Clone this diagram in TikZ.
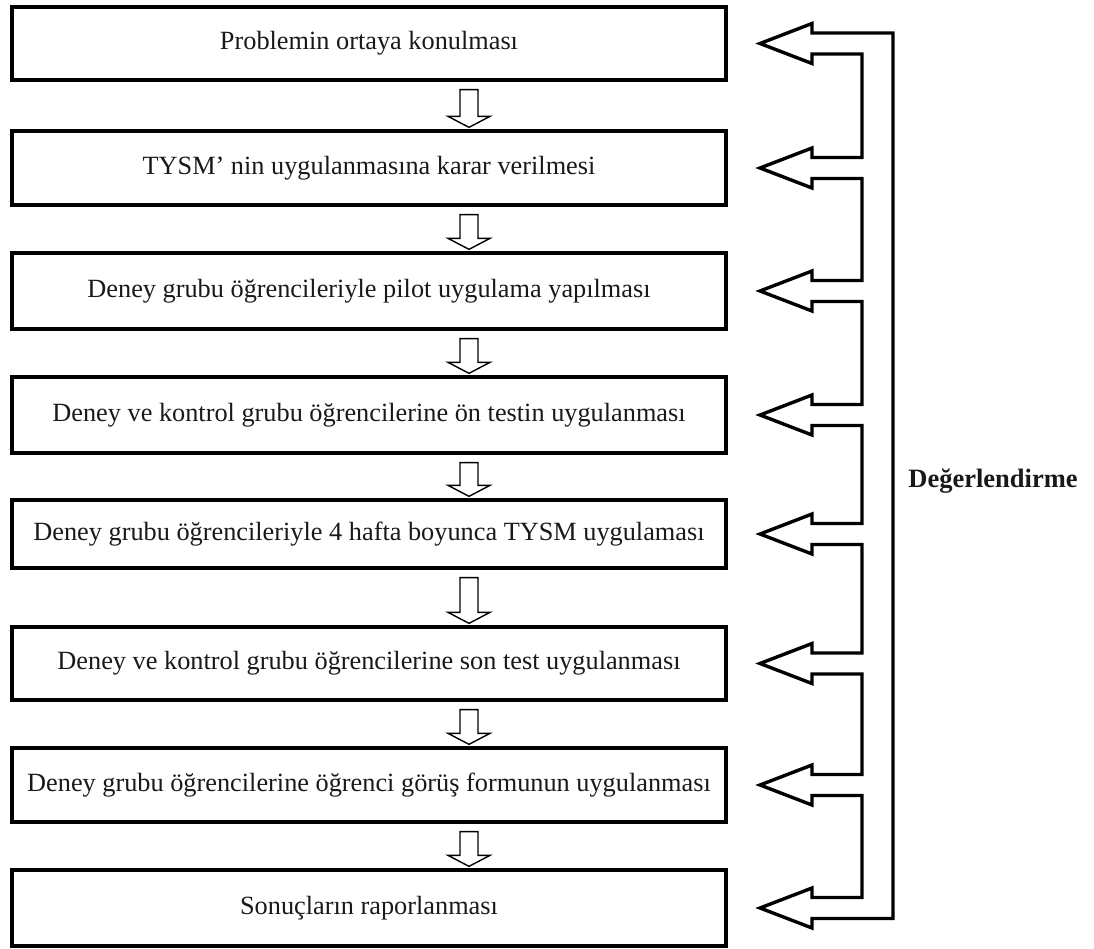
\documentclass[tikz,border=0pt]{standalone}
\usepackage{fontspec}
\setmainfont{Liberation Serif}
\usetikzlibrary{calc}
\tikzset{
  stepbox/.style={draw=black, line width=3.3pt, minimum width=714pt, inner sep=0pt,
    font=\fontsize{26.3}{30}\selectfont, text=black!90},
  downarr/.style={draw=black, line width=1.4pt, fill=white, line join=miter},
  fb/.style={draw=black, line width=3.4pt, line join=miter, miter limit=4},
  evallabel/.style={font=\bfseries\fontsize{26.5}{30}\selectfont, text=black!90}
}
\newcommand\hollowdown[2]{%
  \draw[downarr] let \p1=(#1.south), \p2=(#2.north) in
    (460pt,\y1-8pt) -- (478pt,\y1-8pt) -- (478pt,\y2+13pt) -- (490pt,\y2+13pt)
    -- (469pt,\y2+2pt) -- (448pt,\y2+13pt) -- (460pt,\y2+13pt) -- cycle;}
\begin{document}
\begin{tikzpicture}[x=1pt,y=-1pt]
\useasboundingbox (0,0) rectangle (1094,949);
\node[stepbox, minimum height=73pt] (b1) at (369,43.5) {Problemin ortaya konulması};
\node[stepbox, minimum height=74pt] (b2) at (369,168) {TYSM' nin uygulanmasına karar verilmesi};
\node[stepbox, minimum height=76pt] (b3) at (369,291) {Deney grubu öğrencileriyle pilot uygulama yapılması};
\node[stepbox, minimum height=76pt] (b4) at (369,415) {Deney ve kontrol grubu öğrencilerine ön testin uygulanması};
\node[stepbox, minimum height=68pt] (b5) at (369,534) {Deney grubu öğrencileriyle 4 hafta boyunca TYSM uygulaması};
\node[stepbox, minimum height=73pt] (b6) at (369,663.5) {Deney ve kontrol grubu öğrencilerine son test uygulanması};
\node[stepbox, minimum height=74pt] (b7) at (369,785) {Deney grubu öğrencilerine öğrenci görüş formunun uygulanması};
\node[stepbox, minimum height=76pt] (b8) at (369,908) {Sonuçların raporlanması};
\node[evallabel] (ev) at (993,481) {Değerlendirme};
\hollowdown{b1}{b2}
\hollowdown{b2}{b3}
\hollowdown{b3}{b4}
\hollowdown{b4}{b5}
\hollowdown{b5}{b6}
\hollowdown{b6}{b7}
\hollowdown{b7}{b8}
\coordinate (T) at (760,0);
\coordinate (H) at (812,0);
\coordinate (I) at (862,0);
\coordinate (O) at (893,0);
\draw[fb] (b1.center -| T) -- ++(52pt,20pt) -- ++(0pt,-9.5pt)
  -- ($(b1.center -| O)+(0pt,10.5pt)$)
  -- ($(b8.center -| O)+(0pt,-10.5pt)$)
  -- ($(b8.center -| H)+(0pt,-10.5pt)$) -- ++(0pt,-9.5pt)
  -- (b8.center -| T) -- ++(52pt,20pt) -- ++(0pt,-9.5pt)
  \foreach \a/\b in {8/7,7/6,6/5,5/4,4/3,3/2} {
    -- ($(b\a.center -| I)+(0pt,10.5pt)$)
    -- ($(b\b.center -| I)+(0pt,-10.5pt)$)
    -- ($(b\b.center -| H)+(0pt,-10.5pt)$) -- ++(0pt,-9.5pt)
    -- (b\b.center -| T) -- ++(52pt,20pt) -- ++(0pt,-9.5pt)
  }
  -- ($(b2.center -| I)+(0pt,10.5pt)$)
  -- ($(b1.center -| I)+(0pt,-10.5pt)$)
  -- ($(b1.center -| H)+(0pt,-10.5pt)$) -- ++(0pt,-9.5pt)
  -- cycle;
\end{tikzpicture}
\end{document}
